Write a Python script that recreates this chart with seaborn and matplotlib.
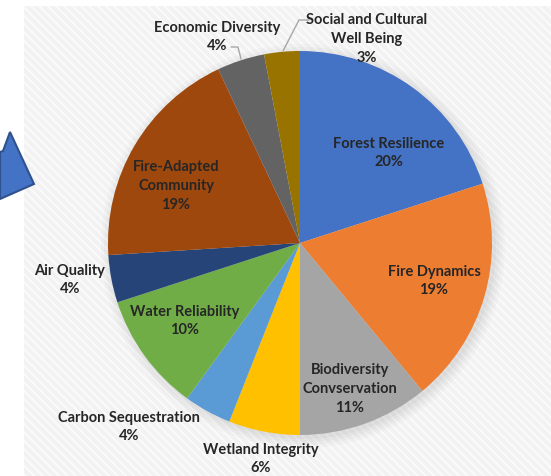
import numpy as np
import matplotlib
matplotlib.use("Agg")
import matplotlib.pyplot as plt
import seaborn as sns
from matplotlib.patches import Rectangle, Polygon, Circle

# data (clockwise from 12 o'clock)
categories = ['Forest Resilience', 'Fire Dynamics', 'Biodiversity\nConvservation',
              'Wetland Integrity', 'Carbon Sequestration', 'Water Reliability',
              'Air Quality', 'Fire-Adapted\nCommunity', 'Economic Diversity',
              'Social and Cultural\nWell Being']
shares = [20, 19, 11, 6, 4, 10, 4, 19, 4, 3]
colors = ['#4472C4', '#ED7D31', '#A5A5A5', '#FFC000', '#5B9BD5',
          '#70AD47', '#264478', '#9E480E', '#636363', '#997300']

# label centres in pixels (x, y from top) - layout only
label_pos = [(389, 153), (434, 281), (350, 389), (261, 459), (129, 427),
             (185, 321), (70, 280), (176, 186), (217, 37), (367, 39)]

W, H = 551, 477
cx, cy, rad = 300, 244, 192

sns.set_theme(style='white')
plt.rcParams['font.family'] = ['Lato', 'DejaVu Sans']
plt.rcParams['hatch.linewidth'] = 1.3

fig = plt.figure(figsize=(W / 100, H / 100), dpi=100)
ax = fig.add_axes([0, 0, 1, 1])
ax.set_aspect('equal')

# striped chart area
ax.add_patch(Rectangle((24, 0), W - 24, H - 7, facecolor='#f2f2f2',
                       edgecolor='#fbfbfb', hatch='\\\\\\\\', lw=0, zorder=0))

# soft shadow behind the pie
for i, a in enumerate([0.04, 0.05, 0.06, 0.07]):
    ax.add_patch(Circle((cx + 3, H - cy - 3), rad + 10 - i * 3, facecolor='#888888',
                        edgecolor='none', alpha=a, zorder=1))

wedges, _ = ax.pie(shares, colors=colors, startangle=90, counterclock=False,
                   center=(cx, H - cy), radius=rad, frame=True,
                   wedgeprops=dict(linewidth=0, zorder=2))
ax.set_xlim(0, W)
ax.set_ylim(0, H)
ax.axis('off')

for name, val, (px, py) in zip(categories, shares, label_pos):
    ax.text(px, H - py, f'{name}\n{val}%', ha='center', va='center',
            fontsize=10.5, fontweight='bold', color='#262626',
            linespacing=1.45, zorder=5)

# leader lines
ax.plot([231, 238, 241], [H - 48, H - 48, H - 60], color='#a6a6a6', lw=1, zorder=4)
ax.plot([309, 299, 283], [H - 21, H - 21, H - 52], color='#a6a6a6', lw=1, zorder=4)

# blue arrow head at the left edge
arrow = Polygon([(0, H - 153), (3, H - 152), (10, H - 133), (34, H - 185), (0, H - 200)],
                closed=True, facecolor='#4472C4', edgecolor='#2F528F', lw=1.5, zorder=6,
                clip_on=False)
ax.add_patch(arrow)

fig.savefig('out.png', dpi=100)
